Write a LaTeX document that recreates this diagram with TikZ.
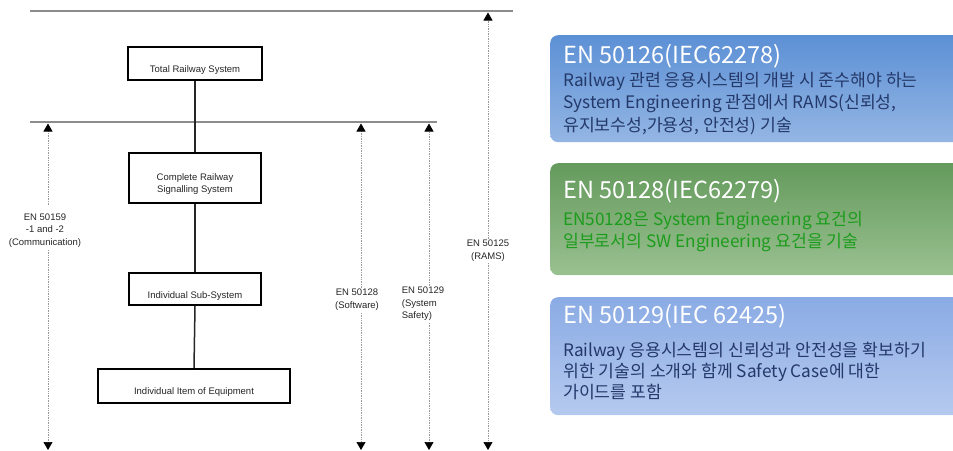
\documentclass[tikz,border=0pt]{standalone}
\usepackage{fontspec}
\setmainfont{Liberation Sans}
\newfontfamily\kr{Noto Sans CJK KR}
\usetikzlibrary{arrows.meta,shadings}
\definecolor{pAtop}{HTML}{5C90D5}
\definecolor{pAbot}{HTML}{94B6E4}
\definecolor{pBtop}{HTML}{649A5C}
\definecolor{pBbot}{HTML}{9AC191}
\definecolor{pCtop}{HTML}{8AABE4}
\definecolor{pCbot}{HTML}{B6CAEF}
\definecolor{navy}{HTML}{24396A}
\definecolor{grn}{HTML}{1C9C1C}
\definecolor{rule}{HTML}{8C8C8C}
\begin{document}
\begin{tikzpicture}[x=1pt,y=-1pt,
  sysbox/.style={draw=black, line width=1.8pt, fill=white, inner sep=0pt},
  boxtext/.style={font=\fontsize{9.5}{12}\selectfont, align=center, text=black!85, inner sep=0pt},
  conn/.style={line width=1.5pt, black!85},
  hrule/.style={line width=1.1pt, rule},
  dimarrow/.style={densely dotted, line width=0.7pt, gray!80, -{Triangle[black, width=9pt, length=8pt]}},
  dimlab/.style={font=\fontsize{9.5}{12.5}\selectfont, text=black!85, inner sep=1pt},
  panel/.style={draw=none, rounded corners=8pt, anchor=north west, inner sep=0pt, minimum width=430pt},
  ptitle/.style={anchor=base west, inner sep=0pt, text=white, font=\kr\fontsize{23.5}{26}\selectfont},
  pbody/.style={anchor=base west, inner sep=0pt, font=\kr\fontsize{17.2}{20}\selectfont}
]
\useasboundingbox (0,0) rectangle (953,450);
\fill[white] (0,0) rectangle (953,450);

% horizontal rules
\coordinate (r1a) at (30,11);
\coordinate (r1b) at (513,11);
\coordinate (r2a) at (30,122);
\coordinate (r2b) at (437,122);
\draw[hrule] (r1a) -- (r1b);
\draw[hrule] (r2a) -- (r2b);

% boxes
\node[sysbox, minimum width=134pt, minimum height=33pt] (trs) at (195,63.5) {};
\node[sysbox, minimum width=132pt, minimum height=50pt] (crs) at (195,178) {};
\node[sysbox, minimum width=132pt, minimum height=32pt] (iss) at (195,289) {};
\node[sysbox, minimum width=192pt, minimum height=34pt] (iie) at (194,386) {};
\node[boxtext] (trst) at ([yshift=-6.5pt]trs.center) {Total Railway System};
\node[boxtext] (crst) at ([yshift=-6pt]crs.center) {Complete Railway\\Signalling System};
\node[boxtext] (isst) at ([yshift=-7pt]iss.center) {Individual Sub-System};
\node[boxtext] (iiet) at ([yshift=-6pt]iie.center) {Individual Item of Equipment};

\draw[conn] (trs.south) -- (crs.north);
\draw[conn] (crs.south) -- (iss.north);
\draw[conn] (iss.south) -- (iie.north);

% dimension arrows
\node[dimlab, align=center] (l159) at (45,230.5) {EN 50159\\-1 and -2\\(Communication)};
\node[dimlab, align=center] (l128) at (357,299.5) {EN 50128\\(Software)};
\node[dimlab, align=left] (l129) at (423,304) {EN 50129\\(System\\Safety)};
\node[dimlab, align=center] (l125) at (488,250.5) {EN 50125\\(RAMS)};

\coordinate (a159t) at (48,123.5);
\coordinate (a159b) at (48,450);
\coordinate (a128t) at (361,123.5);
\coordinate (a128b) at (361,450);
\coordinate (a129t) at (429,123.5);
\coordinate (a129b) at (429,450);
\coordinate (a125t) at (488,12.5);
\coordinate (a125b) at (488,450);

\draw[dimarrow] (48,205) -- (a159t);
\draw[dimarrow] (48,250) -- (a159b);
\draw[dimarrow] (361,288) -- (a128t);
\draw[dimarrow] (361,313) -- (a128b);
\draw[dimarrow] (429,286) -- (a129t);
\draw[dimarrow] (429,323) -- (a129b);
\draw[dimarrow] (488,239) -- (a125t);
\draw[dimarrow] (488,263) -- (a125b);

% right panels
\node[panel, top color=pAtop, bottom color=pAbot, minimum height=107pt] (pA) at (550,35) {};
\node[panel, top color=pBtop, bottom color=pBbot, minimum height=112pt] (pB) at (550,163) {};
\node[panel, top color=pCtop, bottom color=pCbot, minimum height=118pt] (pC) at (550,297) {};

\node[ptitle] (tA) at (563,63) {EN 50126(IEC62278)};
\node[pbody, text=navy] (bA1) at (563,86) {Railway 관련 응용시스템의 개발 시 준수해야 하는};
\node[pbody, text=navy] (bA2) at (563,108.5) {System Engineering 관점에서 RAMS(신뢰성,};
\node[pbody, text=navy] (bA3) at (563,131) {유지보수성,가용성, 안전성) 기술};

\node[ptitle] (tB) at (563,198) {EN 50128(IEC62279)};
\node[pbody, text=grn] (bB1) at (563,225) {EN50128은 System Engineering 요건의};
\node[pbody, text=grn] (bB2) at (563,247) {일부로서의 SW Engineering 요건을 기술};

\node[ptitle] (tC) at (563,323) {EN 50129(IEC 62425)};
\node[pbody, text=navy] (bC1) at (563,356) {Railway 응용시스템의 신뢰성과 안전성을 확보하기};
\node[pbody, text=navy] (bC2) at (563,377) {위한 기술의 소개와 함께 Safety Case에 대한};
\node[pbody, text=navy] (bC3) at (563,398) {가이드를 포함};
\end{tikzpicture}
\end{document}
